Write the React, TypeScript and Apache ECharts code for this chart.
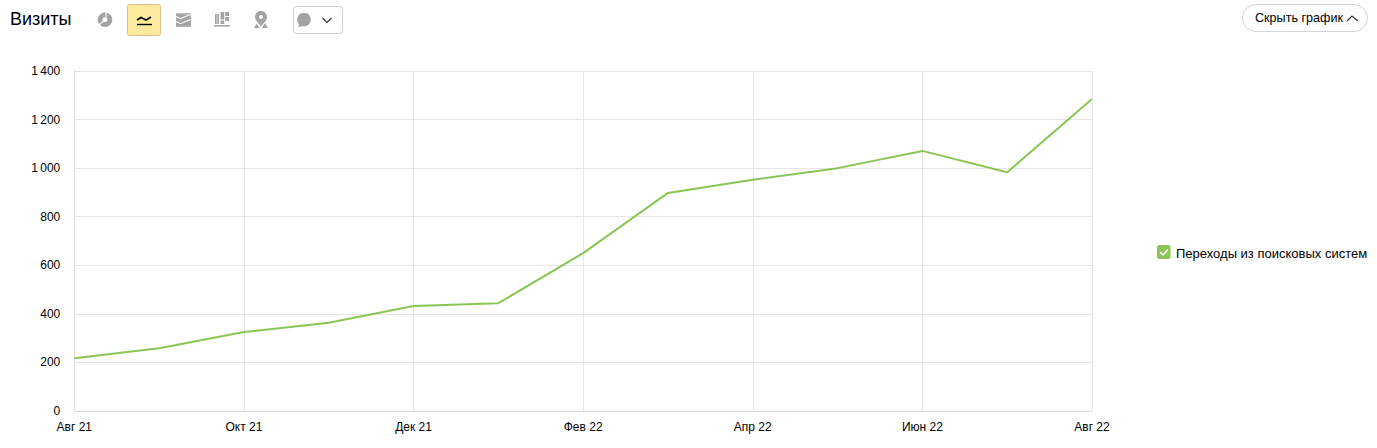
import React, { useEffect, useRef } from "react";
import * as echarts from "echarts";

const months = ["Авг 21","Сен 21","Окт 21","Ноя 21","Дек 21","Янв 22","Фев 22","Мар 22","Апр 22","Май 22","Июн 22","Июл 22","Авг 22"];
const visits = [217,258,325,363,432,444,650,898,952,1000,1071,983,1285];
const seriesName = "Переходы из поисковых систем";
const titleText = "Визиты";
const buttonText = "Скрыть график";

const FONT = '"Liberation Sans", Arial, sans-serif';
const GREY = "#a3a3a3";
const GREEN = "#8bc556";
const fmt = (v: number) => (v >= 1000 ? `${Math.floor(v / 1000)}\u2009${String(v % 1000).padStart(3, "0")}` : String(v));

const stroke = (c: string, w = 1.5) => ({ stroke: c, lineWidth: w, fill: "none" });
const r = (x: number, y: number, width: number, height: number) => ({ type: "rect", shape: { x, y, width, height }, style: { fill: GREY } });

const iconGraphics: any[] = [
  { type: "text", x: 10, y: 10, style: { text: titleText, font: `18px ${FONT}`, fill: "#000" } },
  // pie
  { type: "ring", shape: { cx: 105, cy: 19.7, r: 7.3, r0: 2.5 }, style: { fill: GREY } },
  { type: "line", shape: { x1: 103.5, y1: 21, x2: 98, y2: 26 }, style: stroke("#fff", 1.1) },
  { type: "line", shape: { x1: 106, y1: 17.5, x2: 106, y2: 12 }, style: stroke("#fff", 1) },
  // active line button
  { type: "rect", shape: { x: 127.5, y: 4.5, width: 33, height: 31, r: 2 }, style: { fill: "#ffeba0", stroke: "#d9c384", lineWidth: 1 } },
  { type: "polyline", shape: { points: [[137, 20], [141, 17.5], [146, 20], [151, 17]] }, style: stroke("#000", 1.6) },
  { type: "line", shape: { x1: 137, y1: 24.5, x2: 152, y2: 24.5 }, style: stroke("#000", 1.4) },
  // stacked
  { type: "rect", shape: { x: 176, y: 13.3, width: 15, height: 13.5 }, style: { fill: GREY } },
  ...[16.5, 21.5].map((y) => ({ type: "polyline", shape: { points: [[176, y], [180.5, y + 2.2], [186, y - 0.3], [191, y - 2]] }, style: stroke("#fff", 1.1) })),
  // bars
  r(215, 14, 1.7, 10), r(217.3, 14, 1.7, 10),
  r(220.5, 12, 3.7, 7.5), r(220.5, 20.5, 3.7, 3.5),
  r(225.2, 12, 3.8, 4), r(225.2, 17, 3.8, 4),
  { type: "line", shape: { x1: 214, y1: 25.8, x2: 230, y2: 25.8 }, style: stroke(GREY, 1.5) },
  // map pin
  { type: "ring", shape: { cx: 261, cy: 17, r: 6, r0: 2 }, style: { fill: GREY } },
  { type: "polygon", shape: { points: [[256.5, 21], [265.5, 21], [261, 26.5]] }, style: { fill: GREY } },
  { type: "polygon", shape: { points: [[254, 28], [256.5, 23.5], [259.5, 28]] }, style: { fill: GREY } },
  { type: "polygon", shape: { points: [[262, 28], [265, 23], [268, 28]] }, style: { fill: GREY } },
  // comment dropdown
  { type: "rect", shape: { x: 293.5, y: 6.5, width: 49, height: 27, r: 3 }, style: { fill: "#fff", stroke: "#cfcfcf", lineWidth: 1 } },
  { type: "circle", shape: { cx: 304, cy: 19.5, r: 6.8 }, style: { fill: GREY } },
  { type: "polygon", shape: { points: [[299, 23], [303, 26], [298.5, 27]] }, style: { fill: GREY } },
  { type: "polyline", shape: { points: [[322.5, 18], [327, 22.5], [331.5, 18]] }, style: stroke("#333", 1.2) },
  // hide button
  { type: "rect", shape: { x: 1242.5, y: 4.5, width: 125, height: 27, r: 13.5 }, style: { fill: "#fff", stroke: "#d5d5d5", lineWidth: 1 } },
  { type: "text", x: 1255, y: 11, style: { text: buttonText, font: `12.6px ${FONT}`, fill: "#000" } },
  { type: "polyline", shape: { points: [[1347, 21], [1352, 16], [1358, 21]] }, style: stroke("#333", 1.2) },
  // legend
  { type: "rect", shape: { x: 1157, y: 245, width: 13.5, height: 14, r: 2.5 }, style: { fill: GREEN } },
  { type: "polyline", shape: { points: [[1160, 252], [1163, 255], [1168, 249.5]] }, style: stroke("#fff", 1.5) },
  { type: "text", x: 1176, y: 246.5, style: { text: seriesName, font: `13px ${FONT}`, fill: "#000" } },
];

export default function App() {
  const ref = useRef<HTMLDivElement>(null);
  useEffect(() => {
    document.body.style.margin = "0";
    const chart = echarts.init(ref.current!, undefined, { renderer: "svg" });
    chart.setOption({
      animation: false,
      backgroundColor: "#fff",
      grid: { left: 74.3, right: 285, top: 71, bottom: 37, containLabel: false },
      xAxis: {
        type: "category",
        data: months,
        boundaryGap: false,
        axisLine: { lineStyle: { color: "#dcdcdc", width: 1 } },
        axisTick: { show: false },
        axisLabel: { interval: 1, color: "#000", fontFamily: FONT, fontSize: 12, margin: 10, showMinLabel: true, showMaxLabel: true, hideOverlap: false },
        splitLine: { show: true, interval: 1, lineStyle: { color: "#e6e6e6", width: 1 } },
      },
      yAxis: {
        type: "value",
        min: 0,
        max: 1400,
        interval: 200,
        axisLine: { show: true, lineStyle: { color: "#dcdcdc", width: 1 } },
        axisTick: { show: false },
        axisLabel: { color: "#000", fontFamily: FONT, fontSize: 12, margin: 14, formatter: fmt, padding: [5, 0, 0, 0] },
        splitLine: { show: true, lineStyle: { color: "#e6e6e6", width: 1 } },
      },
      series: [
        {
          name: seriesName,
          type: "line",
          data: visits,
          symbol: "none",
          smooth: false,
          lineStyle: { color: GREEN, width: 2 },
        },
      ],
      graphic: { elements: iconGraphics },
    });
    return () => chart.dispose();
  }, []);
  return <div ref={ref} style={{ width: 1377, height: 448 }} />;
}
